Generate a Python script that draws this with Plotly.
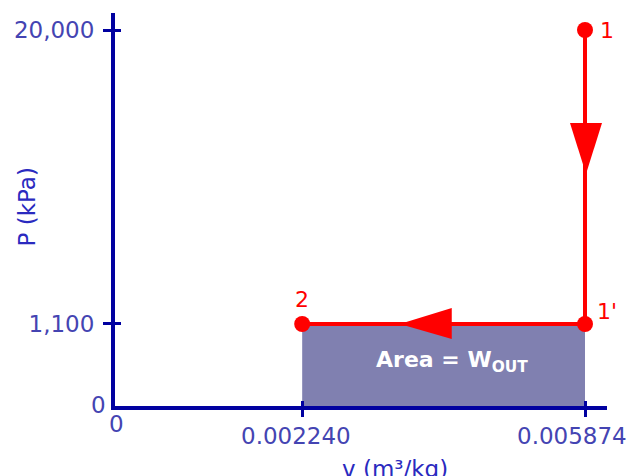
import numpy as np
import plotly.graph_objects as go

# ---- data ----
states = ["1", "1'", "2"]
v_state = [0.005874, 0.005874, 0.002240]      # m3/kg
p_state = [20000, 1100, 1100]                 # kPa
x_tick_vals = [0.002240, 0.005874]
x_tick_text = ["0.002240", "0.005874"]
y_tick_vals = [1100, 20000]
y_tick_text = ["1,100", "20,000"]
zero_label = "0"
area_label = "<b>Area = W<sub>OUT</sub></b>"

# schematic (compressed) axis scales, like the original sketch
X_EXP = 0.955
Y_EXP = 0.525
tx = lambda v: np.power(np.asarray(v, dtype=float), X_EXP)
ty = lambda p: np.power(np.asarray(p, dtype=float), Y_EXP)

AXIS = "#0000a0"
LABEL = "#4444b2"
TITLE = "#2a2abf"
RED = "#ff0000"
FILL = "#8080b0"
FONT = "DejaVu Sans"

xs = tx(v_state)
ys = ty(p_state)

fig = go.Figure()
# area under process 1'-2
fig.add_trace(go.Scatter(
    x=[xs[2], xs[1]], y=[ys[2], ys[1]], mode="lines",
    line=dict(width=0, color=FILL), fill="tozeroy", fillcolor=FILL,
    hoverinfo="skip", showlegend=False))
# process path
fig.add_trace(go.Scatter(
    x=xs, y=ys, mode="lines+markers",
    line=dict(color=RED, width=4),
    marker=dict(color=RED, size=16),
    showlegend=False))

# arrowheads (pixel-sized, anchored along each process segment)
arrow_frac = [0.49, 0.655]
a1x = xs[0] + arrow_frac[0] * (xs[1] - xs[0])
a1y = ys[0] + arrow_frac[0] * (ys[1] - ys[0])
a2x = xs[1] + arrow_frac[1] * (xs[2] - xs[1])
a2y = ys[1] + arrow_frac[1] * (ys[2] - ys[1])
fig.add_shape(type="path", xref="x", yref="y", xsizemode="pixel", ysizemode="pixel",
              xanchor=a1x, yanchor=a1y, path="M-15,51 L17,51 L1,0 Z",
              fillcolor=RED, line=dict(width=0), layer="above")
fig.add_shape(type="path", xref="x", yref="y", xsizemode="pixel", ysizemode="pixel",
              xanchor=a2x, yanchor=a2y, path="M0,0 L52,16 L52,-15 Z",
              fillcolor=RED, line=dict(width=0), layer="above")

# state labels
label_shift = [(22, 0), (22, 12), (0, 24)]
for s, x, y, (dx, dy) in zip(states, xs, ys, label_shift):
    fig.add_annotation(x=x, y=y, text=s, showarrow=False, xshift=dx, yshift=dy,
                       font=dict(family=FONT, size=22, color=RED))

# area label
fig.add_annotation(x=(xs[1] + xs[2]) / 2, y=ys[2] / 2, text=area_label, showarrow=False,
                   xshift=8, yshift=3, font=dict(family=FONT, size=22, color="white"))

# x tick labels (placed under their ticks, nudged left as in the original)
x_label_shift = [-6, -13]
for v, t, dx in zip(x_tick_vals, x_tick_text, x_label_shift):
    fig.add_annotation(x=float(tx(v)), y=0, text=t, showarrow=False, xanchor="center",
                       yanchor="top", xshift=dx, yshift=-15,
                       font=dict(family=FONT, size=23, color=LABEL))

# zero labels
fig.add_annotation(x=0, y=0, text=zero_label, showarrow=False, xanchor="right",
                   xshift=-7, yshift=1, font=dict(family=FONT, size=23, color=LABEL))
fig.add_annotation(x=0, y=0, text=zero_label, showarrow=False, xshift=1, yshift=-18,
                   font=dict(family=FONT, size=23, color=LABEL))

# axis titles
fig.add_annotation(xref="paper", yref="paper", x=0, y=0.5, xanchor="center",
                   xshift=-89, yshift=2,
                   text="P (kPa)", textangle=-90, showarrow=False,
                   font=dict(family=FONT, size=23, color=TITLE))
fig.add_annotation(xref="paper", yref="paper", x=0.57, y=0, xanchor="center",
                   yshift=-78, text="v (m³/kg)", showarrow=False,
                   font=dict(family=FONT, size=23, color=TITLE))

L, R, T, B = 115, 607, 13, 406
fig.update_layout(
    width=630, height=476,
    margin=dict(l=L, r=630 - R, t=T, b=476 - B, autoexpand=False),
    paper_bgcolor="white", plot_bgcolor="white",
    font=dict(family=FONT, size=23, color=LABEL),
    showlegend=False,
)
fig.update_xaxes(
    range=[0, float(tx(v_state[0])) * (R - L) / (585 - L)],
    showline=True, linecolor=AXIS, linewidth=4, showgrid=False, zeroline=False,
    tickmode="array", tickvals=tx(x_tick_vals), showticklabels=False,
    ticks="outside", ticklen=7, tickwidth=3, tickcolor=AXIS,
    minor=dict(tickmode="array", tickvals=tx(x_tick_vals), ticks="inside",
               ticklen=5, tickwidth=3, tickcolor=AXIS, showgrid=False),
)
fig.update_yaxes(
    range=[0, float(ty(p_state[0])) * (B - T) / (B - 30)],
    showline=True, linecolor=AXIS, linewidth=4, showgrid=False, zeroline=False,
    tickmode="array", tickvals=ty(y_tick_vals), ticktext=y_tick_text,
    ticks="outside", ticklen=8, tickwidth=3, tickcolor=AXIS,
    ticklabelstandoff=4,
    minor=dict(tickmode="array", tickvals=ty(y_tick_vals), ticks="inside",
               ticklen=6, tickwidth=3, tickcolor=AXIS, showgrid=False),
    tickfont=dict(family=FONT, size=23, color=LABEL),
)

fig.write_html("out.html", config={"displayModeBar": False},
               post_script="document.body.style.margin='0px';document.body.style.overflow='hidden';")
